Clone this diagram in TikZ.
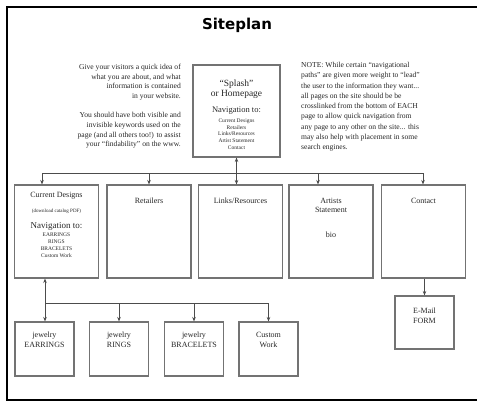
\documentclass[tikz,border=0pt]{standalone}
\usepackage{fontspec}
\setmainfont{Liberation Serif}
\newfontfamily\titlefont{DejaVu Sans}
\usetikzlibrary{positioning,arrows.meta}

\begin{document}
\begin{tikzpicture}[x=1pt,y=-1pt]
	\tikzstyle{page}=[draw=black!55,line width=1.1pt,minimum width=84pt,minimum height=93pt,inner sep=0pt]
	\tikzstyle{subpage}=[page,minimum width=59pt,minimum height=54pt]
	\tikzstyle{txt}=[inner sep=0pt,align=center,text=black!85,font=\fontsize{8}{9.5}\selectfont]
	\tikzstyle{tiny}=[txt,font=\fontsize{5.5}{6.8}\selectfont]
	\tikzstyle{link}=[draw=black!70,line width=0.9pt]
	\tikzstyle{go}=[link,-{Stealth[length=4.5pt,width=3.5pt]}]
	\tikzstyle{both}=[link,{Stealth[length=4.5pt,width=3.5pt]}-{Stealth[length=4.5pt,width=3.5pt]}]
	\useasboundingbox (0,0) rectangle (477,402);
	% frame and title
	\draw[line width=2.4pt] (477,7) -- (7,7) -- (7,400) -- (477,400);
	\node[anchor=base] (title) at (237,29) {\titlefont\bfseries\fontsize{15}{18}\selectfont Siteplan};
	% notes
	\node[txt,align=right,anchor=north east,font=\fontsize{7.6}{9.6}\selectfont] (intro) at (181,64)
		{Give your visitors a quick idea of\\what you are about, and what\\information is contained\\in your website.\\[10pt]
		 You should have both visible and\\invisible keywords used on the\\page (and all others too!) to assist\\your ``findability'' on the www.};
	\node[txt,align=left,anchor=north west,font=\fontsize{7.6}{10.3}\selectfont] (note) at (301,62)
		{NOTE: While certain ``navigational\\paths'' are given more weight to ``lead''\\the user to the information they want...\\
		 all pages on the site should be be\\crosslinked from the bottom of EACH\\page to allow quick navigation from\\
		 any page to any other on the site... this\\may also help with placement in some\\search engines.};
	% home
	\node[page,minimum width=87pt,minimum height=92pt] (splash) at (236.5,111) {};
	\node[txt,below=15pt of splash.north,font=\fontsize{9.5}{10}\selectfont] (splashT) {``Splash''\\or Homepage};
	\node[txt,below=42pt of splash.north,font=\fontsize{8.5}{10}\selectfont] (splashN) {Navigation to:};
	\node[tiny,below=54pt of splash.north] (splashL) {Current Designs\\Retailers\\Links/Resources\\Artist Statement\\Contact};
	% main pages
	\node[page] (cur) at (56.5,231.5) {};
	\node[page] (ret) at (149,231.5) {};
	\node[page] (lnk) at (240.5,231.5) {};
	\node[page] (art) at (331,231.5) {};
	\node[page] (con) at (423.5,231.5) {};
	\node[txt,below=7.5pt of cur.north] (curT) {Current Designs};
	\node[tiny,below=24pt of cur.north,font=\fontsize{5}{6}\selectfont] (curD) {(download catalog PDF)};
	\node[txt,below=38pt of cur.north,font=\fontsize{9}{10}\selectfont] (curN) {Navigation to:};
	\node[tiny,below=48.5pt of cur.north] (curL) {EARRINGS\\RINGS\\BRACELETS\\Custom Work};
	\node[txt,below=13.5pt of ret.north] (retT) {Retailers};
	\node[txt,below=13.5pt of lnk.north] (lnkT) {Links/Resources};
	\node[txt,below=13.5pt of art.north] (artT) {Artists\\Statement};
	\node[txt,below=47pt of art.north] (artB) {bio};
	\node[txt,below=13.5pt of con.north] (conT) {Contact};
	% sub pages
	\node[subpage] (ear) at (44.5,349) {};
	\node[subpage] (rin) at (119,349) {};
	\node[subpage] (bra) at (194,349) {};
	\node[subpage] (cus) at (268.5,349) {};
	\node[subpage,minimum height=53pt] (mail) at (424.5,322.5) {};
	\node[txt,below=10.5pt of ear.north,font=\fontsize{8}{10}\selectfont] (earT) {jewelry\\EARRINGS};
	\node[txt,below=10.5pt of rin.north,font=\fontsize{8}{10}\selectfont] (rinT) {jewelry\\RINGS};
	\node[txt,below=10.5pt of bra.north,font=\fontsize{8}{10}\selectfont] (braT) {jewelry\\BRACELETS};
	\node[txt,below=10.5pt of cus.north,font=\fontsize{8}{10}\selectfont] (cusT) {Custom\\Work};
	\node[txt,below=12.5pt of mail.north,font=\fontsize{8}{10}\selectfont] (mailT) {E-Mail\\FORM};
	% connectors
	\coordinate (busL) at (42,173);
	\coordinate (busR) at (423,173);
	\coordinate (busA) at (318,173);
	\draw[link] (busL) -- (busR);
	\draw[both] (splash.south) -- (splash.south |- lnk.north);
	\draw[go] (busL) -- (busL |- cur.north);
	\draw[go] (ret.north |- busL) -- (ret.north);
	\draw[go] (busA) -- (busA |- art.north);
	\draw[go] (busR) -- (busR |- con.north);
	\coordinate (subL) at (45,303);
	\draw[link] (subL) -- (subL -| cus.north);
	\draw[both] (subL |- cur.south) -- (subL |- ear.north);
	\draw[go] (rin.north |- subL) -- (rin.north);
	\draw[go] (bra.north |- subL) -- (bra.north);
	\draw[go] (cus.north |- subL) -- (cus.north);
	\draw[go] (mail.north |- con.south) -- (mail.north);
\end{tikzpicture}
\end{document}
